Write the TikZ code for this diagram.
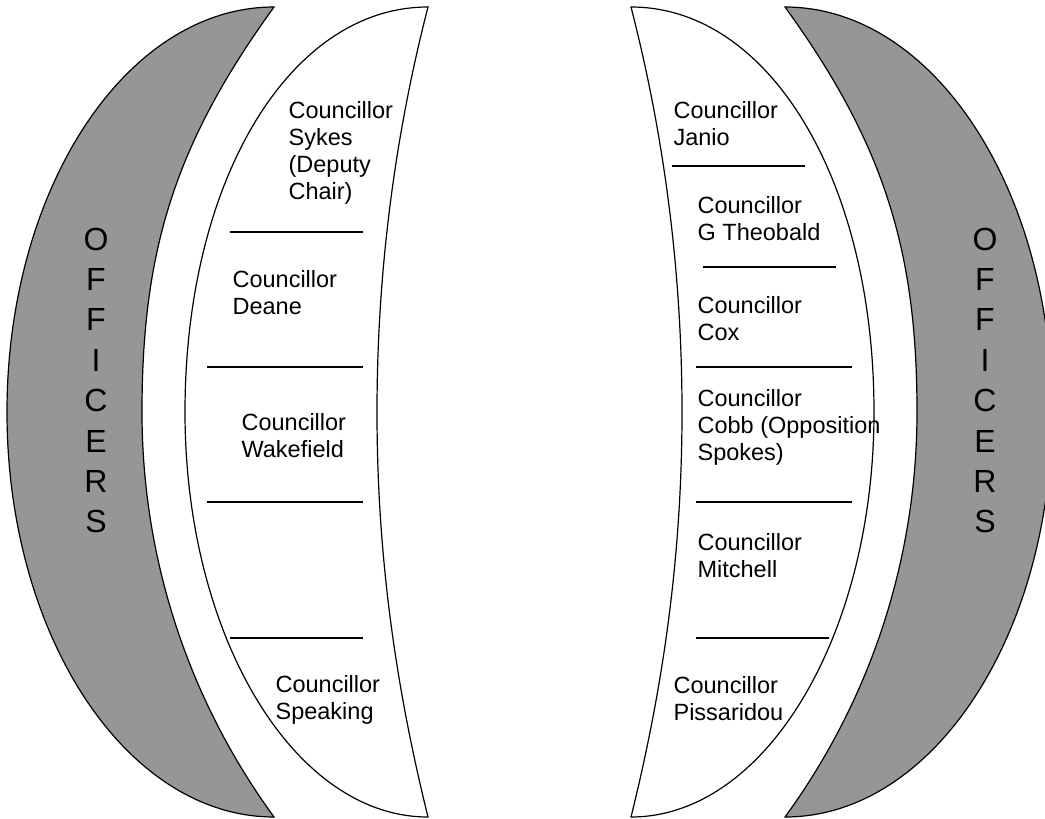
\documentclass[tikz,border=0pt]{standalone}
\usepackage{fontspec}
\setmainfont{Liberation Sans}
\definecolor{officergray}{RGB}{150,150,150}

\begin{document}
\begin{tikzpicture}[x=1pt, y=-1pt, line width=1.2pt,
  seat/.style={anchor=base west, inner sep=0pt, align=left, font=\fontsize{23.5}{27}\selectfont},
  officer/.style={anchor=base, inner sep=0pt, font=\fontsize{32}{36}\selectfont}]
  \useasboundingbox (0,0) rectangle (1045,819);
  % the two crescents of each side, right side mirrored
  \foreach \sx/\dx in {1/0, -1/1059} {
    \begin{scope}[xshift=\dx pt, xscale=\sx]
      \draw[fill=officergray] (274,7) .. controls (126.5,7) and (7,188) .. (7,412)
        .. controls (7,636) and (126.5,817) .. (274,817)
        .. controls (188,699) and (142,558) .. (142,412)
        .. controls (142,252) and (174,145) .. (274,7) -- cycle;
      \draw[fill=white] (428,7) .. controls (290,7) and (185,180) .. (185,412)
        .. controls (185,636) and (293.8,817) .. (428,817)
        .. controls (394,680) and (377,549) .. (377,412)
        .. controls (377,275) and (394,139) .. (428,7) -- cycle;
    \end{scope}
  }
  % officers
  \foreach \ch [count=\i] in {O,F,F,I,C,E,R,S} {
    \node[officer] (offL-\i) at (96,250+40.4*\i-40.4) {\ch};
    \node[officer] (offR-\i) at (985,250+40.4*\i-40.4) {\ch};
  }
  % seat dividers
  \foreach \xa/\xb/\y in {230/363/232, 207/363/367, 207/363/502, 230/363/638,
      672/805/166, 703/836/267, 696/852/367, 696/852/502, 696/829/638}
    \draw (\xa,\y) -- (\xb,\y);
  % councillors (placed at the baseline of the last line)
  \node[seat] (sykes) at (288,199) {Councillor\\Sykes\\(Deputy\\Chair)};
  \node[seat] (deane) at (232,314) {Councillor\\Deane};
  \node[seat] (wakefield) at (241,457) {Councillor\\Wakefield};
  \node[seat] (speaking) at (275,719) {Councillor\\Speaking};
  \node[seat] (janio) at (673,145) {Councillor\\Janio};
  \node[seat] (theobald) at (697,240) {Councillor\\G Theobald};
  \node[seat] (cox) at (697,340) {Councillor\\Cox};
  \node[seat] (cobb) at (697,460) {Councillor\\Cobb (Opposition\\Spokes)};
  \node[seat] (mitchell) at (697,577) {Councillor\\Mitchell};
  \node[seat] (pissaridou) at (673,720) {Councillor\\Pissaridou};
\end{tikzpicture}
\end{document}
